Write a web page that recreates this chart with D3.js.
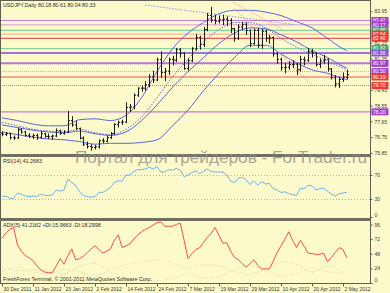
<!DOCTYPE html>
<html>
<head>
<meta charset="utf-8">
<script src="https://cdnjs.cloudflare.com/ajax/libs/d3/7.8.5/d3.min.js"></script>
<style>
  html, body { margin: 0; padding: 0; background: #fcf9cb; }
  svg { display: block; font-family: "Liberation Sans", Arial, sans-serif; }
</style>
</head>
<body>
<div id="chart"></div>
<script>
// ---- data (USDJPY daily, bar index 0 = 30 Dec 2011) ----
const opens = [76.98,76.91,76.95,76.72,76.70,77.18,77.05,76.86,76.80,76.85, 76.75,76.95,76.80,76.78,76.82,77.12,76.97,77.05,77.70,77.45,
  77.25,76.70,76.35,76.22,76.17,76.20,76.55,76.52,76.72,76.95, 77.48,77.60,77.62,78.45,78.48,79.15,79.55,79.55,79.75,80.20,
  80.02,81.18,80.45,80.52,81.20,81.15,81.75,81.55,80.68,81.12, 81.80,82.45,82.05,82.90,83.70,83.45,83.38,83.45,83.50,83.42,
  82.95,82.40,83.05,83.20,82.85,82.10,82.85,82.00,82.80,82.40, 82.45,81.50,81.20,80.72,80.75,80.90,80.92,80.60,81.20,81.15,
  81.65,81.55,80.90,81.10,81.20,80.65,80.15,79.80,80.05,80.18];
const highs = [77.10,77.05,77.00,76.85,77.30,77.25,77.10,76.98,76.95,76.95, 77.10,77.00,76.95,76.90,77.25,77.18,77.15,78.25,77.95,77.70,
  77.30,76.80,76.50,76.35,76.30,76.62,76.70,76.85,77.05,77.55, 77.70,77.75,78.75,78.65,79.25,79.60,79.70,79.95,80.35,80.55,
  81.30,81.65,80.70,81.30,81.40,81.85,81.85,81.60,81.25,81.90, 82.65,82.55,83.05,83.85,84.20,83.75,83.70,83.75,83.65,83.55,
  83.00,83.20,83.35,83.30,82.90,82.95,83.00,82.95,82.90,82.60, 82.50,81.60,81.30,81.00,81.10,81.15,81.00,81.40,81.35,81.85,
  81.80,81.60,81.25,81.45,81.25,80.70,80.30,80.20,80.45,80.61];
const lows = [76.80,76.82,76.62,76.60,76.65,76.95,76.78,76.70,76.65,76.60, 76.65,76.72,76.65,76.60,76.75,76.88,76.90,77.00,77.35,77.15,
  76.62,76.25,76.10,75.98,76.05,76.10,76.40,76.45,76.65,76.90, 77.30,77.45,77.55,78.20,78.35,79.05,79.35,79.40,79.60,79.85,
  79.95,80.15,79.95,80.30,80.85,81.05,81.30,80.60,80.55,81.05, 81.70,81.75,81.90,82.80,83.30,83.20,83.25,83.15,83.10,82.70,
  82.20,82.30,82.85,82.60,81.90,82.05,81.85,81.80,82.20,82.10, 81.35,80.95,80.55,80.40,80.60,80.70,80.30,80.50,80.85,81.05,
  81.30,80.80,80.70,80.95,80.50,80.05,79.60,79.55,79.90,80.04];
const closes = [76.91,76.95,76.72,76.70,77.18,77.05,76.86,76.80,76.85,76.75, 76.95,76.80,76.78,76.82,77.12,76.97,77.05,77.70,77.45,77.25,
  76.70,76.35,76.22,76.17,76.20,76.55,76.52,76.72,76.95,77.48, 77.60,77.62,78.45,78.48,79.15,79.55,79.55,79.75,80.20,80.02,
  81.18,80.45,80.52,81.20,81.15,81.75,81.55,80.68,81.12,81.80, 82.45,82.05,82.90,83.70,83.45,83.38,83.45,83.50,83.42,82.95,
  82.40,83.05,83.20,82.85,82.10,82.85,82.00,82.80,82.40,82.45, 81.50,81.20,80.72,80.75,80.90,80.92,80.60,81.20,81.15,81.65,
  81.55,80.90,81.10,81.20,80.65,80.15,79.80,80.05,80.18,80.33];

// band lines, read every 4th bar
const bandBars = [0,4,8,12,16,20,24,28,32,36,40,44,48,52,56,60,64,68,72,76,80,84,88,89];
const bandUpper = [77.85,77.70,77.50,77.40,77.40,77.75,77.80,77.70,78.00,79.00,80.50,81.80,82.70,83.30,83.80,84.00,84.00,83.90,83.70,83.35,83.00,82.40,81.80,81.70];
const bandMiddle = [77.45,77.30,77.15,77.05,77.00,77.10,76.95,76.85,77.05,77.70,78.60,79.60,80.50,81.30,82.10,82.70,83.00,82.95,82.60,82.20,81.70,81.30,80.80,80.70];
const bandLower = [77.05,76.90,76.75,76.65,76.60,76.50,76.35,76.40,76.40,76.45,76.60,77.40,78.30,79.40,80.40,81.30,82.00,82.00,81.50,81.00,80.60,80.40,80.10,80.05];
const maDotted = [77.60,77.40,77.20,77.10,77.05,77.20,77.00,76.90,77.20,77.90,79.00,80.20,81.20,82.20,82.90,83.30,83.30,83.00,82.40,81.90,81.50,81.10,80.70,80.60];

// horizontal levels drawn on the chart
const levelPrices = [83.42, 83.17, 82.86, 82.64, 82.40, 81.82, 81.56, 80.97, 80.50, 80.19, 79.70, 78.20];
const levelKinds  = ["pu", "pu2", "gr", "sa", "rd", "gr", "bl", "pu3", "pud", "rd", "rdd", "pu"];

// trend lines [bar, price]
const trendBlue = [[37, 84.30], [75, 83.20]];
const trendSalmonA = [[59.6, 84.48], [72, 82.95]];
const trendSalmonB = [[60, 84.10], [80, 79.70]];

// visible plain price labels (others are hidden under the level boxes)
const priceTicks = [83.95, 82.15, 81.25, 79.45, 78.55, 77.65, 76.75, 75.85];
const dateBars = [0, 8, 16, 24, 32, 40, 48, 56, 64, 72, 80, 88];
const dateLabels = ["30 Dec 2011","11 Jan 2012","23 Jan 2012","2 Feb 2012","14 Feb 2012","24 Feb 2012",
  "7 Mar 2012","19 Mar 2012","29 Mar 2012","10 Apr 2012","20 Apr 2012","2 May 2012"];

const rsi = [34,35,31,31,40,38,35,34,35,34, 38,36,36,37,45,43,45,63,57,53,
  42,36,34,33,34,41,41,45,49,58, 60,60,70,70,76,79,79,80,83,80,
  84,75,75,79,78,81,78,67,70,74, 77,72,76,80,76,75,75,75,70,60,
  57,65,66,62,54,60,53,59,55,56, 47,45,41,42,39,37,36,48,47,53,
  52,45,47,48,43,38,35,39,40,41.27];
const rsiTicks = [70, 30, 0];

const adx = [73,82,88,91,62,52,45,41,37,28, 22,18,17,17,28,40,31,45,56,38,
  40,44,50,56,61,55,49,52,56,70, 79,58,61,64,72,79,84,88,91,95,
  99,100,93,93,93,96,98,70,40,48, 55,58,66,75,82,91,78,65,66,52,
  42,38,32,26,32,38,29,23,23,23, 36,50,61,72,84,70,58,70,60,49,
  48,47,47,49,35,42,50,58,55,41.22];
const diBars = [0,4,8,12,16,20,24,28,32,36,40,44,48,52,56,60,64,68,72,76,80,84,88];
const plusDI = [20,25,18,15,22,18,12,22,30,35,38,32,25,30,28,18,15,20,12,15,25,18,16];
const minusDI = [25,20,22,20,15,28,32,18,8,5,4,8,15,8,10,22,28,25,35,30,18,28,18];
const adxTicks = [96, 72, 48, 24, 0];

// ---- layout ----
const W = 390, H = 293, axisX = 370;
const svg = d3.select("#chart").append("svg").attr("width", W).attr("height", H);
svg.append("rect").attr("width", W).attr("height", H).attr("fill", "#fcf9cb");

const x = d3.scaleLinear().domain([0, 88]).range([2, 343]);
const yP = d3.scaleLinear().domain([75.79, 84.59]).range([154, 0]);
const yR = d3.scaleLinear().domain([0, 100]).range([217, 157]);
const yA = d3.scaleLinear().domain([0, 100]).range([283, 222]);

const defs = svg.append("defs");
function clip(id, y0, y1) {
  defs.append("clipPath").attr("id", id).append("rect")
    .attr("x", 1).attr("y", y0).attr("width", axisX - 1).attr("height", y1 - y0);
  return "url(#" + id + ")";
}
const gMain = svg.append("g").attr("clip-path", clip("cm", 1, 154));
const gRsi = svg.append("g").attr("clip-path", clip("cr", 157, 218));
const gAdx = svg.append("g").attr("clip-path", clip("ca", 221, 283));

const levelStyle = {
  pu:  { line: "#c97ad9", box: "#a43fcf", w: 1.2, dash: null },
  pu2: { line: "#cf9ad8", box: "#a43fcf", w: 1, dash: null },
  pu3: { line: "#b877d6", box: "#a43fcf", w: 2, dash: null },
  pud: { line: "#d49ad4", box: "#a43fcf", w: 1, dash: "1,1" },
  gr:  { line: "#86d39a", box: "#3cae6a", w: 1.2, dash: null },
  sa:  { line: "#f5a68a", box: "#ee3b2f", w: 1, dash: null },
  rd:  { line: "#e95b55", box: "#ee3b2f", w: 1.2, dash: null },
  rdd: { line: "#e96a60", box: "#ee3b2f", w: 1, dash: "1,1" },
  bl:  { line: "#7d46e6", box: "#8a52d8", w: 1.5, dash: null }
};

// horizontal levels
gMain.selectAll(".lvl").data(levelPrices).enter().append("line")
  .attr("x1", 0).attr("x2", axisX)
  .attr("y1", d => yP(d)).attr("y2", d => yP(d))
  .attr("stroke", (d, i) => levelStyle[levelKinds[i]].line)
  .attr("stroke-width", (d, i) => levelStyle[levelKinds[i]].w)
  .attr("stroke-dasharray", (d, i) => levelStyle[levelKinds[i]].dash);

// band lines
const bandLine = d3.line().x(d => x(d[0])).y(d => yP(d[1])).curve(d3.curveMonotoneX);
[[bandUpper, null], [bandMiddle, null], [bandLower, null], [maDotted, "1.5,1.5"]].forEach(([vals, dash]) => {
  gMain.append("path")
    .attr("d", bandLine(bandBars.map((b, i) => [b, vals[i]])))
    .attr("fill", "none").attr("stroke", "#5a64e6").attr("stroke-width", 1)
    .attr("stroke-dasharray", dash);
});

// trend lines
const tLine = d3.line().x(d => x(d[0])).y(d => yP(d[1]));
gMain.append("path").attr("d", tLine(trendBlue)).attr("fill", "none")
  .attr("stroke", "#8a94ee").attr("stroke-dasharray", "1.5,1.5");
[trendSalmonA, trendSalmonB].forEach(t => {
  gMain.append("path").attr("d", tLine(t)).attr("fill", "none")
    .attr("stroke", "#f2977a").attr("stroke-dasharray", "1.5,1.5");
});

// OHLC bars
gMain.selectAll(".bar").data(closes).enter().append("path")
  .attr("d", (c, i) => {
    const cx = Math.round(x(i)) + 0.5;
    return "M" + cx + "," + yP(highs[i]) + "V" + yP(lows[i]) +
      "M" + (cx - 1.5) + "," + yP(opens[i]) + "H" + cx +
      "M" + cx + "," + yP(c) + "H" + (cx + 1.5);
  })
  .attr("stroke", "#1c1c1c").attr("stroke-width", 1).attr("fill", "none");

// RSI
gRsi.selectAll(".rl").data([70, 30]).enter().append("line")
  .attr("x1", 0).attr("x2", axisX).attr("y1", d => Math.round(yR(d)) + 0.5).attr("y2", d => Math.round(yR(d)) + 0.5)
  .attr("stroke", "#b8b08a").attr("stroke-dasharray", "1,2");
gRsi.append("path")
  .attr("d", d3.line().x((d, i) => x(i)).y(d => yR(d))(rsi))
  .attr("fill", "none").attr("stroke", "#6cb4ee").attr("stroke-width", 1);

// ADX + DI
const diLine = d3.line().x((d, i) => x(diBars[i])).y(d => yA(d)).curve(d3.curveMonotoneX);
[plusDI, minusDI].forEach(v => {
  gAdx.append("path").attr("d", diLine(v)).attr("fill", "none")
    .attr("stroke", "#dcd3a4").attr("stroke-dasharray", "1,2");
});
gAdx.append("path")
  .attr("d", d3.line().x((d, i) => x(i)).y(d => yA(d))(adx))
  .attr("fill", "none").attr("stroke", "#f0504a").attr("stroke-width", 1);

// frames & separators
const frame = svg.append("g").attr("stroke", "#5e5e52").attr("fill", "none");
frame.append("line").attr("x1", 0.5).attr("x2", 0.5).attr("y1", 0).attr("y2", 283);
frame.append("line").attr("x1", 0).attr("x2", axisX).attr("y1", 0.5).attr("y2", 0.5);
frame.append("line").attr("x1", axisX + 0.5).attr("x2", axisX + 0.5).attr("y1", 0).attr("y2", 283);
frame.append("line").attr("x1", 0).attr("x2", axisX).attr("y1", 155.5).attr("y2", 155.5).attr("stroke-width", 3).attr("stroke", "#707062");
frame.append("line").attr("x1", 0).attr("x2", axisX).attr("y1", 219.5).attr("y2", 219.5).attr("stroke-width", 3).attr("stroke", "#707062");
frame.append("line").attr("x1", 0).attr("x2", axisX + 1).attr("y1", 283.5).attr("y2", 283.5);

// axes
function styleAxis(g) {
  g.select(".domain").remove();
  g.selectAll(".tick line").attr("stroke", "#5e5e52");
  g.selectAll(".tick text").attr("fill", "#3a3a34").style("font-size", "5px");
}
svg.append("g").attr("transform", "translate(" + (axisX + 0.5) + ",0)")
  .call(d3.axisRight(yP).tickValues(priceTicks).tickSize(2).tickPadding(2).tickFormat(d3.format(".2f")))
  .call(styleAxis);
svg.append("g").attr("transform", "translate(" + (axisX + 0.5) + ",0)")
  .call(d3.axisRight(yR).tickValues(rsiTicks).tickSize(2).tickPadding(2))
  .call(styleAxis)
  .selectAll(".tick text").attr("dy", (d) => d === 0 ? "-0.1em" : "0.32em");
svg.append("g").attr("transform", "translate(" + (axisX + 0.5) + ",0)")
  .call(d3.axisRight(yA).tickValues(adxTicks).tickSize(2).tickPadding(2))
  .call(styleAxis)
  .selectAll(".tick text").attr("dy", (d) => d === 0 ? "-0.3em" : "0.32em");

const xAxis = svg.append("g").attr("transform", "translate(0,283.5)")
  .call(d3.axisBottom(x).tickValues(dateBars).tickSize(3).tickPadding(1)
    .tickFormat((d, i) => dateLabels[i]))
  .call(styleAxis);
xAxis.selectAll(".tick text").attr("text-anchor", "start").attr("x", 1);

// level labels on the price axis
const lbl = svg.append("g");
levelPrices.forEach((p, i) => {
  const st = levelStyle[levelKinds[i]];
  const yy = yP(p);
  lbl.append("rect").attr("x", axisX + 1.5).attr("y", yy - 3.5).attr("width", 17).attr("height", 7).attr("fill", st.box);
  lbl.append("text").attr("x", axisX + 3).attr("y", yy + 1.8).attr("fill", "#ffffff")
    .style("font-size", "5px").text(p.toFixed(2));
});

// panel captions
const cap = svg.append("g").attr("fill", "#2e2e28").style("font-size", "5.3px");
cap.append("text").attr("x", 3).attr("y", 7).text("USDJPY,Daily  80.18 80.61 80.04 80.33");
cap.append("text").attr("x", 3).attr("y", 163).text("RSI(14) 41.2683");
cap.append("text").attr("x", 3).attr("y", 227).text("ADX(5) 41.2162 +DI:15.9663 -DI:18.2998");
cap.append("text").attr("x", 3).attr("y", 281).text("FreshForex Terminal, \u00a9 2001-2011 MetaQuotes Software Corp.");

// watermark
svg.append("text").attr("x", 75).attr("y", 163)
  .attr("textLength", 292).attr("lengthAdjust", "spacingAndGlyphs")
  .style("font-size", "17px").attr("fill", "#8d8a80").attr("fill-opacity", 0.75)
  .text("Портал для трейдеров - ForTrader.ru");
</script>
</body>
</html>
